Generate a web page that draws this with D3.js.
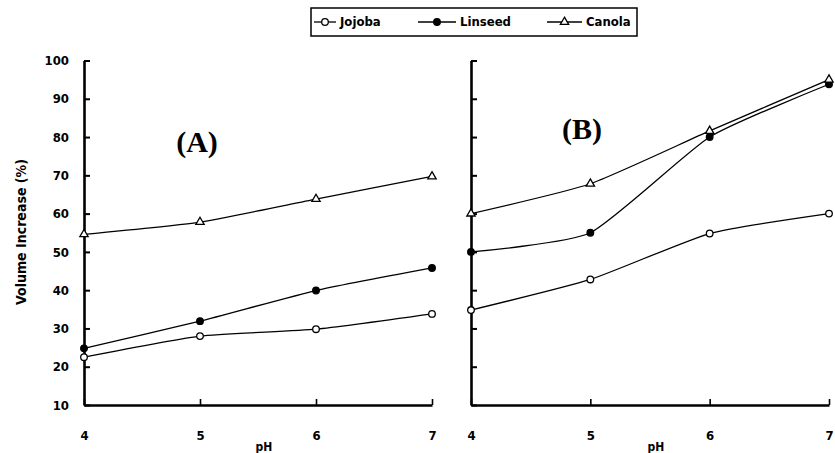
<!DOCTYPE html>
<html><head><meta charset="utf-8">
<script src="https://cdn.jsdelivr.net/npm/d3@7"></script>
<style>
html,body{margin:0;padding:0;background:#fff;}
svg{display:block;}
.lbl{font-family:"DejaVu Sans Condensed","DejaVu Sans",sans-serif;font-weight:bold;font-stretch:condensed;}
</style></head>
<body>
<script>
const pH = [4, 5, 6, 7];
const seriesNames = ["Jojoba", "Linseed", "Canola"];
const yTicks = [10, 20, 30, 40, 50, 60, 70, 80, 90, 100];
// Panel A
const jojobaA = [22.5, 28, 29.8, 33.8];
const linseedA = [24.8, 31.9, 39.9, 45.8];
const canolaA = [54.6, 57.8, 63.8, 69.7];
// Panel B
const jojobaB = [34.8, 42.8, 54.8, 60];
const linseedB = [50, 55, 80, 93.8];
const canolaB = [60, 67.8, 81.6, 95];

const W = 835, H = 453;
const svg = d3.select("body").append("svg").attr("width", W).attr("height", H);

const y = d3.scaleLinear().domain([10, 100]).range([405, 60.5]);
const panels = [
  {name: "(A)", x: d3.scaleLinear().domain([4, 7]).range([84, 432]), data: [jojobaA, linseedA, canolaA], labels: true, title: [197, 145]},
  {name: "(B)", x: d3.scaleLinear().domain([4, 7]).range([471, 829]), data: [jojobaB, linseedB, canolaB], labels: false, title: [582, 132]}
];
const markerTypes = ["open", "filled", "triangle"];

function drawMarker(g, type, cx, cy) {
  if (type === "triangle") {
    g.append("path").attr("d", d3.symbol(d3.symbolTriangle, 30)()).attr("transform", `translate(${cx},${cy})`)
      .attr("fill", "#fff").attr("stroke", "#000").attr("stroke-width", 1.3);
  } else {
    g.append("circle").attr("cx", cx).attr("cy", cy).attr("r", 3.3)
      .attr("fill", type === "filled" ? "#000" : "#fff").attr("stroke", "#000").attr("stroke-width", 1.3);
  }
}

panels.forEach(p => {
  const g = svg.append("g");
  // y axis
  const ya = d3.axisLeft(y).tickValues(yTicks).tickSizeInner(-6).tickSizeOuter(0).tickPadding(15)
    .tickFormat(p.labels ? d3.format("d") : () => "");
  const yg = g.append("g").attr("transform", `translate(${p.x(4)},0)`).call(ya);
  yg.select(".domain").attr("stroke-width", 2.6);
  yg.selectAll(".tick line").attr("stroke-width", 2);
  yg.selectAll("text").attr("class", "lbl").attr("font-size", 13).attr("fill", "#000");
  // x axis
  const xa = d3.axisBottom(p.x).tickValues(pH).tickSizeInner(-6).tickSizeOuter(0).tickPadding(26).tickFormat(d3.format("d"));
  const xg = g.append("g").attr("transform", `translate(0,${y(10)})`).call(xa);
  xg.select(".domain").attr("stroke-width", 2.6);
  xg.selectAll(".tick line").attr("stroke-width", 1.6);
  xg.selectAll("text").attr("class", "lbl").attr("font-size", 13).attr("fill", "#000");
  // x title
  g.append("text").attr("class", "lbl").attr("x", (p.x(4) + p.x(7)) / 2 + 6).attr("y", 447)
    .attr("text-anchor", "middle").attr("dominant-baseline", "middle").attr("font-size", 12).text("pH");
  // lines
  const line = d3.line().x((d, i) => p.x(pH[i])).y(d => y(d)).curve(d3.curveCardinal.tension(0.45));
  p.data.forEach((vals, si) => {
    g.append("path").attr("d", line(vals)).attr("fill", "none").attr("stroke", "#000").attr("stroke-width", 1.3);
  });
  p.data.forEach((vals, si) => {
    vals.forEach((v, i) => drawMarker(g, markerTypes[si], p.x(pH[i]), y(v)));
  });
  // panel title
  g.append("text").attr("x", p.title[0]).attr("y", p.title[1]).attr("text-anchor", "middle")
    .attr("font-family", "'Liberation Serif','Times New Roman',serif").attr("font-weight", "bold")
    .attr("font-size", 30).attr("dominant-baseline", "middle").text(p.name);
});

// y title
svg.append("text").attr("class", "lbl").attr("transform", "translate(22,232) rotate(-90)")
  .attr("text-anchor", "middle").attr("dominant-baseline", "middle").attr("font-size", 14).text("Volume Increase (%)");

// legend
const lg = svg.append("g");
lg.append("rect").attr("x", 311).attr("y", 8).attr("width", 326).attr("height", 28)
  .attr("fill", "#fff").attr("stroke", "#000").attr("stroke-width", 1.5);
const legX = [[314, 340], [418, 460], [547, 586]];
seriesNames.forEach((n, i) => {
  const [lx, tx] = legX[i];
  lg.append("line").attr("x1", lx).attr("x2", tx - 4).attr("y1", 22).attr("y2", 22).attr("stroke", "#000").attr("stroke-width", 1.3);
  drawMarker(lg, markerTypes[i], (lx + tx - 4) / 2, 22);
  lg.append("text").attr("class", "lbl").attr("x", tx).attr("y", 22).attr("dominant-baseline", "middle")
    .attr("font-size", 13).text(n);
});
</script>
</body></html>
